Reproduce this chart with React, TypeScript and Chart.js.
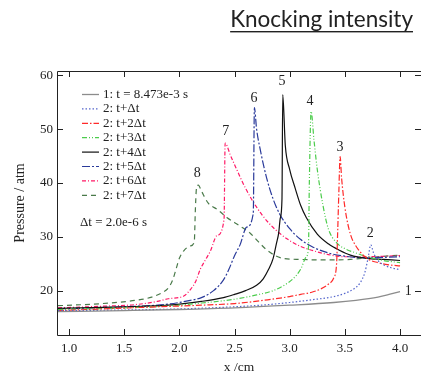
import React, { useEffect, useRef } from "react";
import { Chart, registerables } from "chart.js";
Chart.register(...registerables);

// ---- data ----
const s1X = [0.9, 1.5, 2.0, 2.5, 3.0, 3.4, 3.6, 3.8, 3.9, 4.0];
const s1Y = [16.1, 16.3, 16.5, 16.8, 17.3, 17.8, 18.2, 18.8, 19.3, 19.8];

const s2X = [0.9, 1.5, 2.0, 2.5, 2.8, 3.0, 3.2, 3.4, 3.5, 3.58, 3.64, 3.68, 3.71, 3.735, 3.76, 3.8, 3.86, 3.93, 4.0];
const s2Y = [16.3, 16.4, 16.6, 17.0, 17.4, 17.8, 18.3, 18.9, 19.5, 20.3, 21.5, 23.3, 26.0, 28.5, 27.0, 25.6, 24.7, 24.2, 23.9];

const s3X = [0.9, 1.3, 1.8, 2.2, 2.5, 2.8, 3.0, 3.1, 3.2, 3.28, 3.35, 3.4, 3.425, 3.435, 3.445, 3.457, 3.47, 3.5, 3.55, 3.6, 3.7, 3.8, 3.9, 4.0];
const s3Y = [16.3, 16.6, 17.0, 17.3, 17.6, 18.3, 18.9, 19.3, 19.7, 20.3, 21.2, 22.4, 25.0, 31.0, 38.0, 44.9, 41.0, 35.5, 30.5, 28.3, 26.0, 25.2, 24.8, 24.6];

const s4X = [0.9, 1.5, 2.0, 2.2, 2.5, 2.7, 2.85, 2.95, 3.03, 3.1, 3.15, 3.17, 3.178, 3.194, 3.22, 3.25, 3.3, 3.35, 3.42, 3.5, 3.6, 3.7, 3.85, 4.0];
const s4Y = [16.5, 16.8, 17.3, 17.7, 18.4, 19.2, 20.0, 21.0, 22.2, 24.0, 26.3, 28.0, 40.0, 53.3, 48.0, 42.5, 36.0, 31.5, 29.0, 27.8, 27.0, 26.3, 25.6, 25.2];

const s5X = [0.9, 1.5, 1.9, 2.2, 2.4, 2.5, 2.6, 2.7, 2.76, 2.81, 2.85, 2.88, 2.9, 2.915, 2.93, 2.937, 2.96, 3.0, 3.05, 3.1, 3.15, 3.25, 3.35, 3.45, 3.55, 3.7, 3.85, 4.0];
const s5Y = [16.7, 17.0, 17.3, 18.0, 18.7, 19.3, 20.0, 21.0, 22.2, 24.0, 26.0, 28.8, 30.7, 33.5, 37.0, 56.4, 47.0, 42.5, 39.0, 35.8, 33.6, 30.5, 28.7, 27.5, 26.6, 26.0, 25.8, 25.6];

const s6X = [0.9, 1.5, 1.9, 2.1, 2.2, 2.31, 2.4, 2.45, 2.5, 2.55, 2.61, 2.67, 2.68, 2.7, 2.73, 2.79, 2.85, 2.91, 3.0, 3.1, 3.2, 3.35, 3.5, 3.7, 4.0];
const s6Y = [16.6, 17.0, 17.5, 18.2, 18.7, 20.0, 22.0, 24.0, 26.5, 28.5, 31.8, 34.4, 54.0, 50.0, 46.5, 41.0, 37.0, 34.2, 31.5, 29.5, 28.2, 27.0, 26.4, 26.1, 26.3];

const s7X = [0.9, 1.3, 1.6, 1.8, 1.9, 2.04, 2.1, 2.15, 2.19, 2.23, 2.28, 2.34, 2.405, 2.415, 2.43, 2.46, 2.52, 2.6, 2.7, 2.8, 2.9, 3.0, 3.1, 3.2, 3.35, 3.5, 3.7, 4.0];
const s7Y = [16.8, 17.1, 17.4, 18.0, 18.5, 19.0, 20.2, 21.8, 24.0, 25.5, 27.3, 30.2, 33.2, 47.4, 47.0, 45.3, 42.5, 39.0, 35.5, 32.8, 30.8, 29.3, 28.2, 27.5, 26.7, 26.3, 26.3, 26.5];

const s8X = [0.9, 1.3, 1.6, 1.75, 1.85, 1.9, 1.94, 1.97, 2.0, 2.04, 2.1, 2.135, 2.145, 2.155, 2.172, 2.2, 2.26, 2.35, 2.43, 2.55, 2.64, 2.72, 2.79, 2.87, 2.94, 3.1, 3.3, 3.55, 3.8, 4.0];
const s8Y = [17.2, 17.6, 18.2, 18.8, 19.7, 20.5, 22.0, 24.0, 26.0, 27.4, 28.3, 29.0, 35.0, 39.0, 39.6, 38.5, 36.3, 35.0, 33.6, 32.0, 30.7, 29.0, 27.6, 26.5, 26.0, 25.8, 25.7, 25.8, 26.3, 26.6];

const seriesNames = [
  "1: t = 8.473e-3 s",
  "2: t+\u0394t",
  "2: t+2\u0394t",
  "2: t+3\u0394t",
  "2: t+4\u0394t",
  "2: t+5\u0394t",
  "2: t+6\u0394t",
  "2: t+7\u0394t",
];
const seriesColors = ["#8c8c8c", "#5566cc", "#ff2a2a", "#4ccc4c", "#111111", "#2a3a9a", "#ff1a66", "#4a7a4a"];
const seriesDashes: number[][] = [[], [1.5, 2], [6, 2, 1.5, 2], [5, 2, 1, 2, 1, 2], [], [8, 2, 2, 2], [4, 2, 1, 2], [5, 4]];

const curveLabels = ["1", "2", "3", "4", "5", "6", "7", "8"];
const curveLabelX = [4.075, 3.73, 3.457, 3.185, 2.93, 2.677, 2.42, 2.163];
const curveLabelY = [19.8, 30.7, 46.7, 55.1, 58.8, 55.8, 49.6, 41.8];

const xTitle = "x /cm";
const yTitle = "Pressure / atm";
const chartTitle = "Knocking intensity";
const noteText = "\u0394t = 2.0e-6 s";

const X_MIN = 0.891, X_MAX = 4.19, Y_MIN = 11.76, Y_MAX = 60.8;

const SERIF = "'Liberation Serif', 'Times New Roman', serif";
const INK = "#222222";

const allX = [s1X, s2X, s3X, s4X, s5X, s6X, s7X, s8X];
const allY = [s1Y, s2Y, s3Y, s4Y, s5Y, s6Y, s7Y, s8Y];

const framePlugin = {
  id: "frameTicks",
  afterDatasetsDraw(chart: any) {
    const { ctx, chartArea: a, scales } = chart;
    const xs = scales.x, ys = scales.y;
    ctx.save();
    ctx.strokeStyle = INK;
    ctx.lineWidth = 1;
    ctx.setLineDash([]);
    ctx.beginPath();
    ctx.rect(a.left + 0.5, a.top + 0.5, a.right - a.left, a.bottom - a.top);
    ctx.stroke();
    const L = 6;
    ctx.beginPath();
    xs.ticks.forEach((t: any) => {
      const px = Math.round(xs.getPixelForValue(t.value)) + 0.5;
      ctx.moveTo(px, a.bottom);
      ctx.lineTo(px, a.bottom - L);
      ctx.moveTo(px, a.top);
      ctx.lineTo(px, a.top + L);
    });
    ys.ticks.forEach((t: any) => {
      const py = Math.round(ys.getPixelForValue(t.value)) + 0.5;
      ctx.moveTo(a.left, py);
      ctx.lineTo(a.left + L, py);
      ctx.moveTo(a.right, py);
      ctx.lineTo(a.right - L, py);
    });
    ctx.stroke();
    ctx.restore();
  },
};

const textPlugin = {
  id: "texts",
  afterDraw(chart: any) {
    const { ctx, chartArea: a, scales } = chart;
    const xs = scales.x, ys = scales.y;
    ctx.save();
    // title
    ctx.font = "22.5px Lato, 'Open Sans', sans-serif";
    ctx.fillStyle = INK;
    ctx.textAlign = "right";
    ctx.textBaseline = "alphabetic";
    const tw = ctx.measureText(chartTitle).width;
    const tr = 413;
    ctx.fillText(chartTitle, tr, 27);
    ctx.fillRect(tr - tw, 31, tw, 1.4);

    // axis titles
    ctx.font = `13.5px ${SERIF}`;
    ctx.textAlign = "center";
    ctx.textBaseline = "middle";
    ctx.fillText(xTitle, (a.left + a.right) / 2, 367);
    ctx.save();
    ctx.translate(20, (a.top + a.bottom) / 2);
    ctx.rotate(-Math.PI / 2);
    ctx.font = `14px ${SERIF}`;
    ctx.fillText(yTitle, 0, 0);
    ctx.restore();

    // curve numbers
    ctx.font = `14px ${SERIF}`;
    ctx.textAlign = "center";
    ctx.textBaseline = "middle";
    curveLabels.forEach((s, i) => {
      ctx.fillText(s, xs.getPixelForValue(curveLabelX[i]), ys.getPixelForValue(curveLabelY[i]));
    });

    // legend
    ctx.font = `13px ${SERIF}`;
    ctx.textAlign = "left";
    chart.data.datasets.forEach((d: any, i: number) => {
      const y = 94.5 + i * 14.4;
      ctx.strokeStyle = d.borderColor;
      ctx.lineWidth = d.borderWidth;
      ctx.setLineDash(d.borderDash || []);
      ctx.beginPath();
      ctx.moveTo(82, y);
      ctx.lineTo(99, y);
      ctx.stroke();
      ctx.fillStyle = INK;
      ctx.fillText(d.label, 103, y);
    });
    ctx.setLineDash([]);
    ctx.fillText(noteText, 80, 223);
    ctx.restore();
  },
};

export default function App() {
  const ref = useRef<HTMLCanvasElement>(null);
  useEffect(() => {
    if (!ref.current) return;
    const datasets = allX.map((xsArr, i) => ({
      label: seriesNames[i],
      data: xsArr.map((x, j) => ({ x, y: allY[i][j] })),
      borderColor: seriesColors[i],
      borderWidth: i === 0 ? 1.3 : 1.2,
      borderDash: seriesDashes[i],
      pointRadius: 0,
      showLine: true,
      fill: false,
      tension: 0,
      cubicInterpolationMode: "monotone" as const,
    }));
    const chart = new Chart(ref.current, {
      type: "scatter",
      data: { datasets },
      options: {
        animation: false,
        responsive: false,
        devicePixelRatio: 1,
        layout: { padding: { top: 71, left: 0, right: 0, bottom: 0 } },
        plugins: { legend: { display: false }, title: { display: false }, tooltip: { enabled: false } },
        scales: {
          x: {
            type: "linear",
            min: X_MIN,
            max: X_MAX,
            grid: { display: false, drawTicks: false },
            border: { display: false },
            afterFit: (s: any) => { s.height = 38; },
            ticks: {
              stepSize: 0.5,
              includeBounds: false,
              maxRotation: 0,
              padding: 6,
              color: INK,
              font: { family: SERIF, size: 13 },
              callback: (v: any) => Number(v).toFixed(1),
            },
          },
          y: {
            type: "linear",
            min: Y_MIN,
            max: Y_MAX,
            grid: { display: false, drawTicks: false },
            border: { display: false },
            afterFit: (s: any) => { s.width = 57; },
            ticks: {
              stepSize: 10,
              includeBounds: false,
              padding: 4,
              color: INK,
              font: { family: SERIF, size: 13 },
              callback: (v: any) => String(Math.round(Number(v))),
            },
          },
        },
      },
      plugins: [framePlugin, textPlugin],
    });
    return () => chart.destroy();
  }, []);
  return (
    <div style={{ position: "absolute", left: 0, top: 0, width: 421, height: 373, background: "#fff" }}>
      <canvas ref={ref} width={421} height={373} />
    </div>
  );
}
